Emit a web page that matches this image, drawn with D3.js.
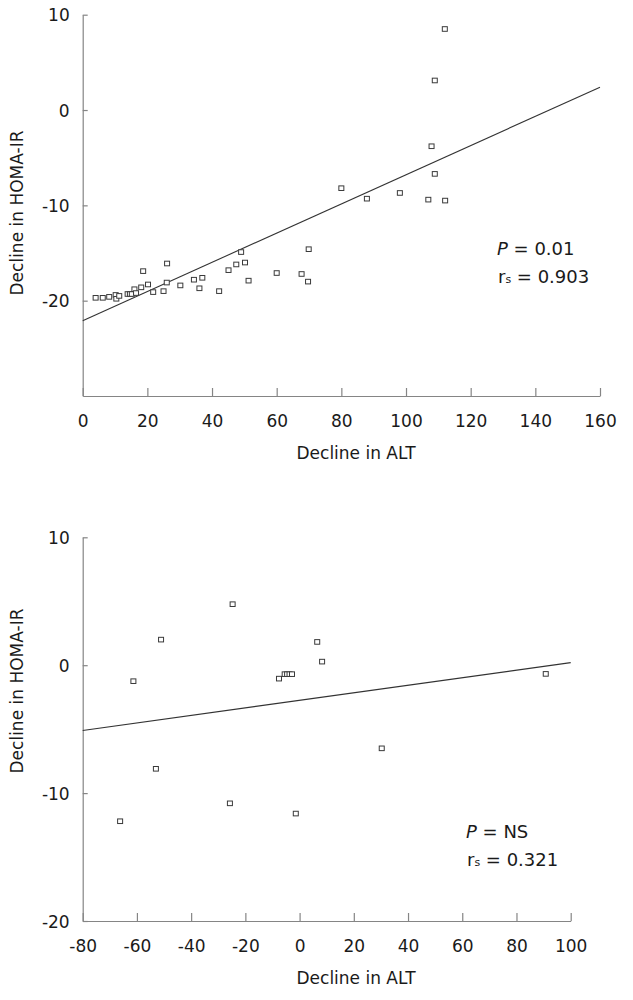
<!DOCTYPE html>
<html><head><meta charset="utf-8">
<script src="https://cdn.jsdelivr.net/npm/d3@7/dist/d3.min.js"></script>
<style>
html,body{margin:0;padding:0;background:#fff;}
text{font-family:"DejaVu Sans",Verdana,sans-serif;fill:#1a1a1a;}
</style></head>
<body>
<script>
// ---------- data ----------
const topX = [4.0,6.2,8.2,10.2,10.4,11.3,13.9,14.6,15.2,16.0,16.5,18.1,18.7,20.2,21.8,25.0,26.1,26.0,30.2,34.4,36.1,37.0,42.2,45.1,47.5,49.0,50.2,51.3,60.0,67.7,69.9,69.7,80.0,87.9,98.1,106.9,112.1,107.9,108.9,108.9,112.0];
const topY = [-19.7,-19.7,-19.6,-19.4,-19.8,-19.5,-19.3,-19.3,-19.3,-18.8,-19.2,-18.6,-16.9,-18.3,-19.1,-19.0,-16.1,-18.1,-18.4,-17.8,-18.7,-17.6,-19.0,-16.8,-16.2,-14.9,-16.0,-17.9,-17.1,-17.2,-14.6,-18.0,-8.2,-9.3,-8.7,-9.4,-9.5,-3.8,-6.7,3.1,8.5];
const topFitX = [0,160];
const topFitY = [-22.1,2.4];
const topXTicks = [0,20,40,60,80,100,120,140,160];
const topYTicks = [-20,-10,0,10];

const botX = [-24.7,-51.1,-61.3,-7.6,-5.5,-4.6,-3.7,-2.8,6.5,8.3,-53.0,-66.2,-25.7,-1.4,30.3,90.8];
const botY = [4.77,2.0,-1.25,-1.05,-0.7,-0.7,-0.7,-0.7,1.82,0.28,-8.1,-12.2,-10.8,-11.6,-6.5,-0.68];
const botFitX = [-80,100];
const botFitY = [-5.1,0.2];
const botXTicks = [-80,-60,-40,-20,0,20,40,60,80,100];
const botYTicks = [-20,-10,0,10];

const xTitle = "Decline in ALT";
const yTitle = "Decline in HOMA-IR";
const topP = "0.01", topR = "0.903";
const botP = "NS", botR = "0.321";

// ---------- drawing ----------
const svg = d3.select("body").append("svg").attr("width",633).attr("height",1000);
svg.append("rect").attr("width",633).attr("height",1000).attr("fill","#fff");

function panel(cfg){
  const g = svg.append("g");
  const x = d3.scaleLinear().domain(cfg.xDomain).range(cfg.xRange);
  const y = d3.scaleLinear().domain(cfg.yDomain).range(cfg.yRange);
  const axisY = cfg.yRange[0];
  const axisX = cfg.xRange[0];

  const xa = g.append("g").attr("transform",`translate(0,${axisY})`)
    .call(d3.axisBottom(x).tickValues(cfg.xTicks).tickFormat(d=>String(d))
      .tickSizeInner(-8).tickSizeOuter(0).tickPadding(19));
  const ya = g.append("g").attr("transform",`translate(${axisX},0)`)
    .call(d3.axisLeft(y).tickValues(cfg.yTicks).tickFormat(d=>String(d))
      .tickSizeInner(-5).tickSizeOuter(0).tickPadding(13));
  [xa,ya].forEach(a=>{
    a.selectAll("path,line").attr("stroke","#858585").attr("stroke-width",1.2);
    a.selectAll("text").style("font-size","17px").attr("fill","#1a1a1a")
     .style("font-family",'"DejaVu Sans",Verdana,sans-serif');
  });
  ya.selectAll("text").attr("dy","0.36em");

  // fit line
  g.append("line")
    .attr("x1",x(cfg.fitX[0])).attr("y1",y(cfg.fitY[0]))
    .attr("x2",x(cfg.fitX[1])).attr("y2",y(cfg.fitY[1]))
    .attr("stroke","#333").attr("stroke-width",1.1);

  // points
  const pts = cfg.px.map((v,i)=>({x:v,y:cfg.py[i]}));
  g.selectAll("rect.pt").data(pts).enter().append("rect").attr("class","pt")
    .attr("x",d=>x(d.x)-2.5).attr("y",d=>y(d.y)-2.3)
    .attr("width",5).attr("height",4.6)
    .attr("fill","#fff").attr("stroke","#3a3a3a").attr("stroke-width",1);

  // titles
  g.append("text").attr("x",356).attr("y",cfg.xTitleY).attr("text-anchor","middle")
    .style("font-size","17px").text(xTitle);
  g.append("text").attr("transform",`translate(23,${cfg.yTitleC}) rotate(-90)`)
    .attr("text-anchor","middle").style("font-size","17px").text(yTitle);

  // annotation
  const t1 = g.append("text").attr("x",cfg.annX).attr("y",cfg.annY).style("font-size","18px");
  t1.append("tspan").style("font-style","italic").text("P");
  t1.append("tspan").text(" = " + cfg.p);
  const t2 = g.append("text").attr("x",cfg.annX+1).attr("y",cfg.annY+28).style("font-size","18px");
  t2.append("tspan").text("r");
  t2.append("tspan").style("font-size","11px").text("s");
  t2.append("tspan").text(" = " + cfg.r);
}

panel({xDomain:[0,160], xRange:[82.7,600], yDomain:[-30,10], yRange:[396,14.7],
  xTicks:topXTicks, yTicks:topYTicks, px:topX, py:topY, fitX:topFitX, fitY:topFitY,
  xTitleY:459, yTitleC:213, annX:497, annY:255, p:topP, r:topR});

panel({xDomain:[-80,100], xRange:[82.7,570.7], yDomain:[-20,10], yRange:[921,537.3],
  xTicks:botXTicks, yTicks:botYTicks, px:botX, py:botY, fitX:botFitX, fitY:botFitY,
  xTitleY:984, yTitleC:691, annX:466, annY:837.5, p:botP, r:botR});
</script>
</body></html>
